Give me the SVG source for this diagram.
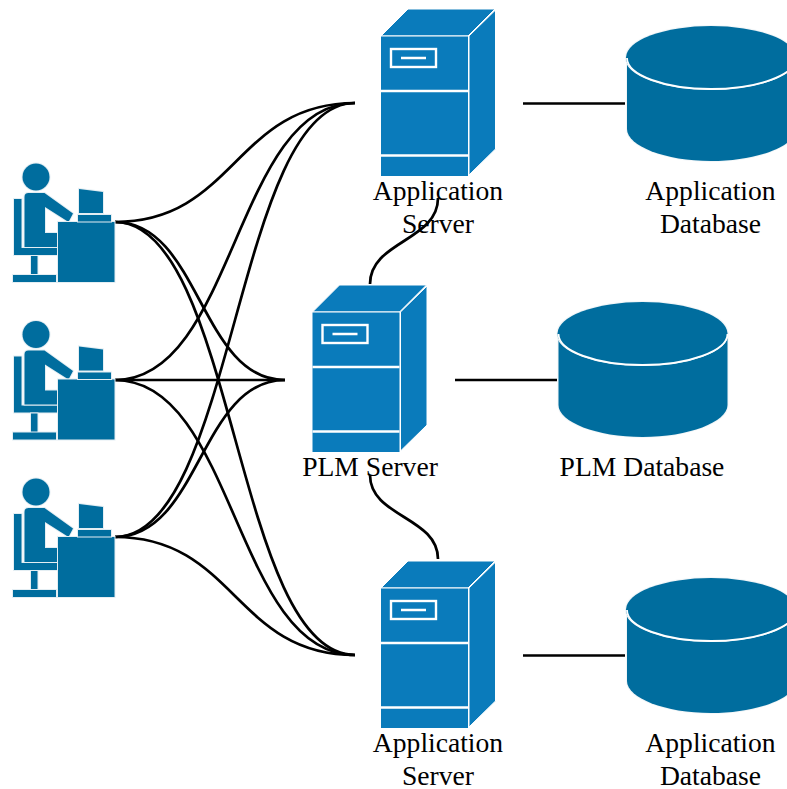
<svg xmlns="http://www.w3.org/2000/svg" width="787" height="789" viewBox="0 0 787 789">
<style>
.wire{fill:none;stroke:#000;stroke-width:2.7}
.u{fill:#006d9e;stroke:#e4eef3;stroke-width:2;paint-order:stroke}
.sv{fill:#0a7bbb;stroke:#fff;stroke-width:1}
.ln{fill:none;stroke:#fff;stroke-width:2.4}
.db{fill:#006d9e;stroke:#f2f6f8;stroke-width:2;paint-order:stroke}
.dl{fill:none;stroke:#fff;stroke-width:1.8}
text{font-family:"Liberation Serif","Times New Roman",serif;font-size:27.6px;fill:#000;text-anchor:middle}
</style>
<defs>
<g id="user">
<circle class="u" cx="36" cy="177" r="13.500"/>
<path class="u" d="M14 199H21.500V248H57V255H14Z"/>
<path class="u" d="M24.500 197Q24.500 193 28.500 193H44.500L73 213.500L69 221H67L45 207V233H57V247H24.500Z"/>
<rect class="u" x="31" y="256" width="6.500" height="19"/>
<rect class="u" x="13" y="275" width="43" height="7"/>
<rect class="u" x="58" y="222" width="56.500" height="60"/>
<path class="u" d="M79 189L103 192V213H79Z"/>
<rect class="u" x="78" y="215" width="33" height="6.500"/>
</g>
<g id="server">
<path class="sv" d="M381 36L408 9H495L468 36Z"/>
<rect class="sv" x="380.500" y="36" width="88" height="140.500"/>
<path class="sv" d="M469 36L495.500 10V149L469 175Z"/>
<path class="ln" d="M381 91H468M381 155.500H468M401 58H426"/>
<rect class="ln" x="391" y="49" width="45" height="18"/>
</g>
<g id="database">
<path class="db" d="M627 57V129C627 146 665 161 711 161S796 146 796 129V57Z"/>
<ellipse class="db" cx="711" cy="57.500" rx="85" ry="31.500"/>
<path class="dl" d="M627 58C627 75 665 89 711 89S796 75 796 58"/>
</g>
</defs>
<g id="connectors">
<path class="wire" d="M115 222C235 222 235 103 355 103"/>
<path class="wire" d="M115 222C200 222 200 380 285 380"/>
<path class="wire" d="M115 222C235 222 235 655 355 655"/>
<path class="wire" d="M115 380C235 380 235 103 355 103"/>
<path class="wire" d="M115 380H285"/>
<path class="wire" d="M115 380C235 380 235 655 355 655"/>
<path class="wire" d="M115 537C235 537 235 103 355 103"/>
<path class="wire" d="M115 537C200 537 200 380 285 380"/>
<path class="wire" d="M115 537C235 537 235 655 355 655"/>
<path class="wire" d="M523 103.500H625M455 380H557M523 655.500H625"/>
<path class="wire" d="M370 284C370 241 438 241 438 198"/>
<path class="wire" d="M370 475C370 517 438 517 438 559"/>
</g>
<g id="user1"><use href="#user"/></g>
<g id="user2"><use href="#user" y="157.500"/></g>
<g id="user3"><use href="#user" y="315"/></g>
<g id="app-server-1"><use href="#server"/><text x="438" y="199.500">Application</text><text x="438" y="232.500">Server</text></g>
<g id="plm-server"><use href="#server" x="-68.500" y="276"/><text x="370" y="476">PLM Server</text></g>
<g id="app-server-2"><use href="#server" y="552"/><text x="438" y="752">Application</text><text x="438" y="785">Server</text></g>
<g id="app-db-1"><use href="#database"/><text x="710.500" y="199.500">Application</text><text x="710.500" y="232.500">Database</text></g>
<g id="plm-db"><use href="#database" x="-68.500" y="276"/><text x="642" y="476">PLM Database</text></g>
<g id="app-db-2"><use href="#database" y="552"/><text x="710.500" y="752">Application</text><text x="710.500" y="785">Database</text></g>
</svg>
